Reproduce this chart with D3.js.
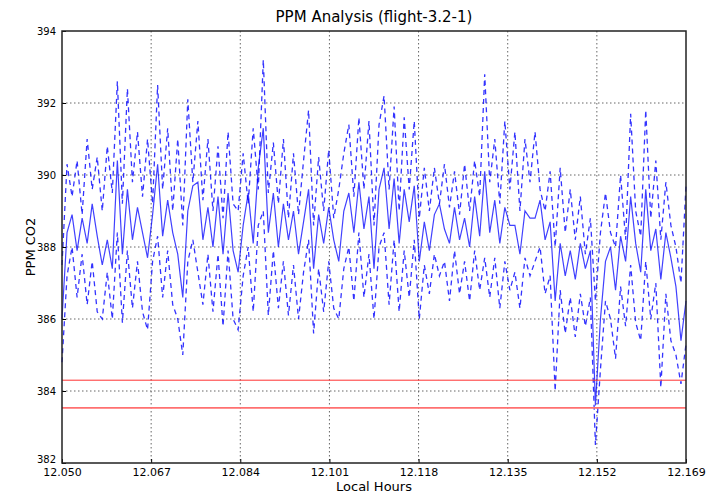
<!DOCTYPE html>
<html>
<head>
<meta charset="utf-8">
<script src="https://cdn.jsdelivr.net/npm/d3@7"></script>
<style>
body { margin: 0; background: #fff; }
text { font-family: "DejaVu Sans", sans-serif; }
</style>
</head>
<body>
<script>
// sampling of the flight record (local hours)
var tStart = 12.050, tEnd = 12.169;
var xTicks = [12.050, 12.067, 12.084, 12.101, 12.118, 12.135, 12.152, 12.169];
var yTicks = [382, 384, 386, 388, 390, 392, 394];

// mean ppm
var ppmMean = [386.0, 388.4, 388.9, 387.9, 388.8, 388.1, 389.2, 388.3, 387.5, 388.2,
  387.4, 390.4, 387.8, 389.6, 388.2, 389.1, 388.4, 387.7, 388.9, 390.3,
  388.3, 389.3, 388.4, 387.8, 386.6, 389.0, 389.7, 389.8, 388.2, 389.1,
  388.0, 389.4, 387.8, 389.5, 387.9, 387.3, 388.6, 389.5, 388.1, 390.2,
  391.3, 388.4, 389.5, 388.0, 389.2, 388.2, 389.0, 387.8, 388.7, 389.6,
  387.4, 388.9, 388.1, 389.1, 388.2, 387.6, 389.0, 389.5, 388.4, 389.8,
  388.5, 389.4, 387.4, 389.6, 390.2, 388.5, 389.9, 388.1, 389.6, 388.7,
  389.7, 387.6, 388.7, 387.9, 388.9, 389.2, 388.5, 388.1, 389.1, 388.2,
  388.8, 388.0, 389.4, 388.3, 390.1, 388.4, 389.3, 388.1, 389.1, 388.6,
  388.6, 387.8, 389.0, 388.8, 388.8, 389.3, 388.2, 388.7, 386.5, 388.1,
  387.2, 387.9, 387.1, 388.1, 387.4, 387.9, 383.6, 386.0, 387.6, 388.0,
  386.8, 388.3, 387.6, 389.4, 388.1, 387.3, 389.6, 387.9, 388.5, 387.1,
  388.4, 387.7, 386.9, 385.4, 386.5];

// upper band
var ppmHigh = [387.5, 390.3, 389.4, 390.4, 388.9, 391.0, 389.6, 390.5, 389.0, 390.8,
  389.5, 392.6, 389.2, 392.4, 389.8, 391.2, 389.4, 391.0, 389.2, 392.5,
  389.6, 391.3, 389.0, 391.0, 388.6, 392.1, 389.8, 391.5, 389.3, 391.0,
  389.0, 390.8, 388.8, 391.2, 389.2, 389.0, 390.6, 389.2, 391.3, 389.6,
  393.2, 389.5, 390.9, 389.2, 391.0, 388.8, 390.6, 388.9, 390.4, 391.8,
  388.6, 390.5, 389.0, 390.7, 388.8, 389.6, 390.6, 391.4, 389.4, 391.6,
  389.6, 391.5, 388.6, 391.4, 392.2, 389.6, 391.9, 389.0, 391.6, 389.6,
  391.5, 388.8, 390.2, 389.0, 390.2, 389.2, 390.3, 389.1, 390.1, 388.9,
  390.3, 389.0, 390.4, 389.4, 392.8, 389.8, 391.0, 389.2, 391.5, 389.6,
  391.2, 389.0, 391.0, 389.8, 391.2, 389.6, 389.0, 390.1, 388.0, 390.2,
  388.4, 389.6, 388.2, 389.4, 387.8, 388.8, 386.5, 388.4, 389.5, 388.4,
  388.0, 390.0, 388.2, 391.7, 389.0, 388.3, 391.8, 388.8, 390.4, 388.2,
  389.8, 388.6, 388.0, 387.0, 389.7];

// lower band
var ppmLow = [384.8, 387.2, 388.0, 386.6, 387.8, 386.4, 387.6, 386.2, 386.0, 387.3,
  386.0, 388.4, 385.9, 387.9, 386.3, 387.6, 386.2, 385.7, 387.6, 388.3,
  386.6, 387.9, 386.4, 386.0, 385.0, 387.6, 388.2, 387.3, 386.4, 387.8,
  386.2, 387.8, 385.8, 387.9, 386.0, 385.7, 387.2, 388.0, 386.2, 388.6,
  389.0, 386.1, 387.9, 386.3, 387.6, 386.1, 387.5, 386.0, 387.3, 388.2,
  385.6, 387.4, 386.2, 387.6, 386.3, 386.0, 387.4, 388.0, 386.5, 388.4,
  386.6, 387.8, 386.0, 388.0, 388.4, 386.4, 388.2, 386.2, 387.9, 386.6,
  388.2, 386.0, 387.5, 386.7, 387.8, 387.2, 387.6, 386.5, 387.9, 386.7,
  387.6, 386.5, 387.9, 386.8, 387.7, 386.6, 387.7, 386.3, 387.6, 386.8,
  387.3, 386.3, 387.7, 387.2, 387.6, 388.0, 386.7, 387.2, 384.0, 386.8,
  385.6, 386.6, 385.5, 386.7, 385.8, 386.6, 382.5, 384.6, 386.5, 386.0,
  384.9, 386.9, 385.8, 387.5, 385.9, 385.4, 387.6, 386.0, 387.0, 384.1,
  386.7, 385.4, 385.0, 384.2, 385.3];

// reference levels
var refLevels = [384.3, 383.53];

var margin = {top: 31, right: 30, bottom: 32, left: 62},
    width = 716 - margin.left - margin.right,
    height = 495 - margin.top - margin.bottom;

var svg = d3.select("body").append("svg")
    .attr("width", 716)
    .attr("height", 495);

var g = svg.append("g")
    .attr("transform", "translate(" + margin.left + "," + margin.top + ")");

var x = d3.scaleLinear().domain([tStart, tEnd]).range([0, width]);
var y = d3.scaleLinear().domain([382, 394]).range([height, 0]);

// time of sample i
var tOf = function(i, n) { return tStart + (tEnd - tStart) * i / (n - 1); };

// grid
g.selectAll(".vgrid").data(xTicks.slice(1, -1)).enter().append("line")
    .attr("x1", function(d) { return x(d); })
    .attr("x2", function(d) { return x(d); })
    .attr("y1", 0).attr("y2", height)
    .attr("stroke", "#666").attr("stroke-dasharray", "1.5,2.5");
g.selectAll(".hgrid").data(yTicks.slice(1, -1)).enter().append("line")
    .attr("x1", 0).attr("x2", width)
    .attr("y1", function(d) { return y(d); })
    .attr("y2", function(d) { return y(d); })
    .attr("stroke", "#666").attr("stroke-dasharray", "1.5,2.5");

var line = d3.line()
    .x(function(d, i, arr) { return x(tOf(i, arr.length)); })
    .y(function(d) { return y(d); });

g.append("path").datum(ppmHigh)
    .attr("d", line).attr("fill", "none")
    .attr("stroke", "#0000ff").attr("stroke-opacity", 0.8)
    .attr("stroke-width", 1.3).attr("stroke-dasharray", "5,4");
g.append("path").datum(ppmLow)
    .attr("d", line).attr("fill", "none")
    .attr("stroke", "#0000ff").attr("stroke-opacity", 0.8)
    .attr("stroke-width", 1.3).attr("stroke-dasharray", "5,4");
g.append("path").datum(ppmMean)
    .attr("d", line).attr("fill", "none")
    .attr("stroke", "#0000ff").attr("stroke-opacity", 0.75)
    .attr("stroke-width", 1.2);

// reference lines
g.selectAll(".ref").data(refLevels).enter().append("line")
    .attr("x1", 0).attr("x2", width)
    .attr("y1", function(d) { return y(d); })
    .attr("y2", function(d) { return y(d); })
    .attr("stroke", function(d, i) { return i == 0 ? "#ff3030" : "#ff7070"; })
    .attr("stroke-width", function(d, i) { return i == 0 ? 1 : 1.6; });

// axes
var xAxis = d3.axisBottom(x).tickValues(xTicks).tickSize(-4).tickPadding(5)
    .tickFormat(d3.format(".3f"));
var yAxis = d3.axisLeft(y).tickValues(yTicks).tickSize(-4).tickPadding(6)
    .tickFormat(d3.format("d"));

var gx = g.append("g").attr("transform", "translate(0," + height + ")").call(xAxis);
gx.select(".domain").remove();
gx.selectAll("text").attr("font-size", 11).attr("fill", "#000");
var gy = g.append("g").call(yAxis);
gy.select(".domain").remove();
gy.selectAll("text").attr("font-size", 10).attr("fill", "#000");
// keep the bottom label clear of the first x label
gy.selectAll("text").filter(function(d) { return d == 382; }).attr("dy", "-0.05em");

// frame
g.append("rect")
    .attr("width", width).attr("height", height)
    .attr("fill", "none").attr("stroke", "#222").attr("stroke-width", 1.5);

// labels
svg.append("text")
    .attr("x", margin.left + width / 2).attr("y", 22)
    .attr("text-anchor", "middle").attr("font-size", 15)
    .text("PPM Analysis (flight-3.2-1)");
svg.append("text")
    .attr("x", margin.left + width / 2).attr("y", 491)
    .attr("text-anchor", "middle").attr("font-size", 13)
    .text("Local Hours");
svg.append("text")
    .attr("transform", "translate(35," + (margin.top + height / 2) + ") rotate(-90)")
    .attr("text-anchor", "middle").attr("font-size", 13)
    .text("PPM CO2");
</script>
</body>
</html>
